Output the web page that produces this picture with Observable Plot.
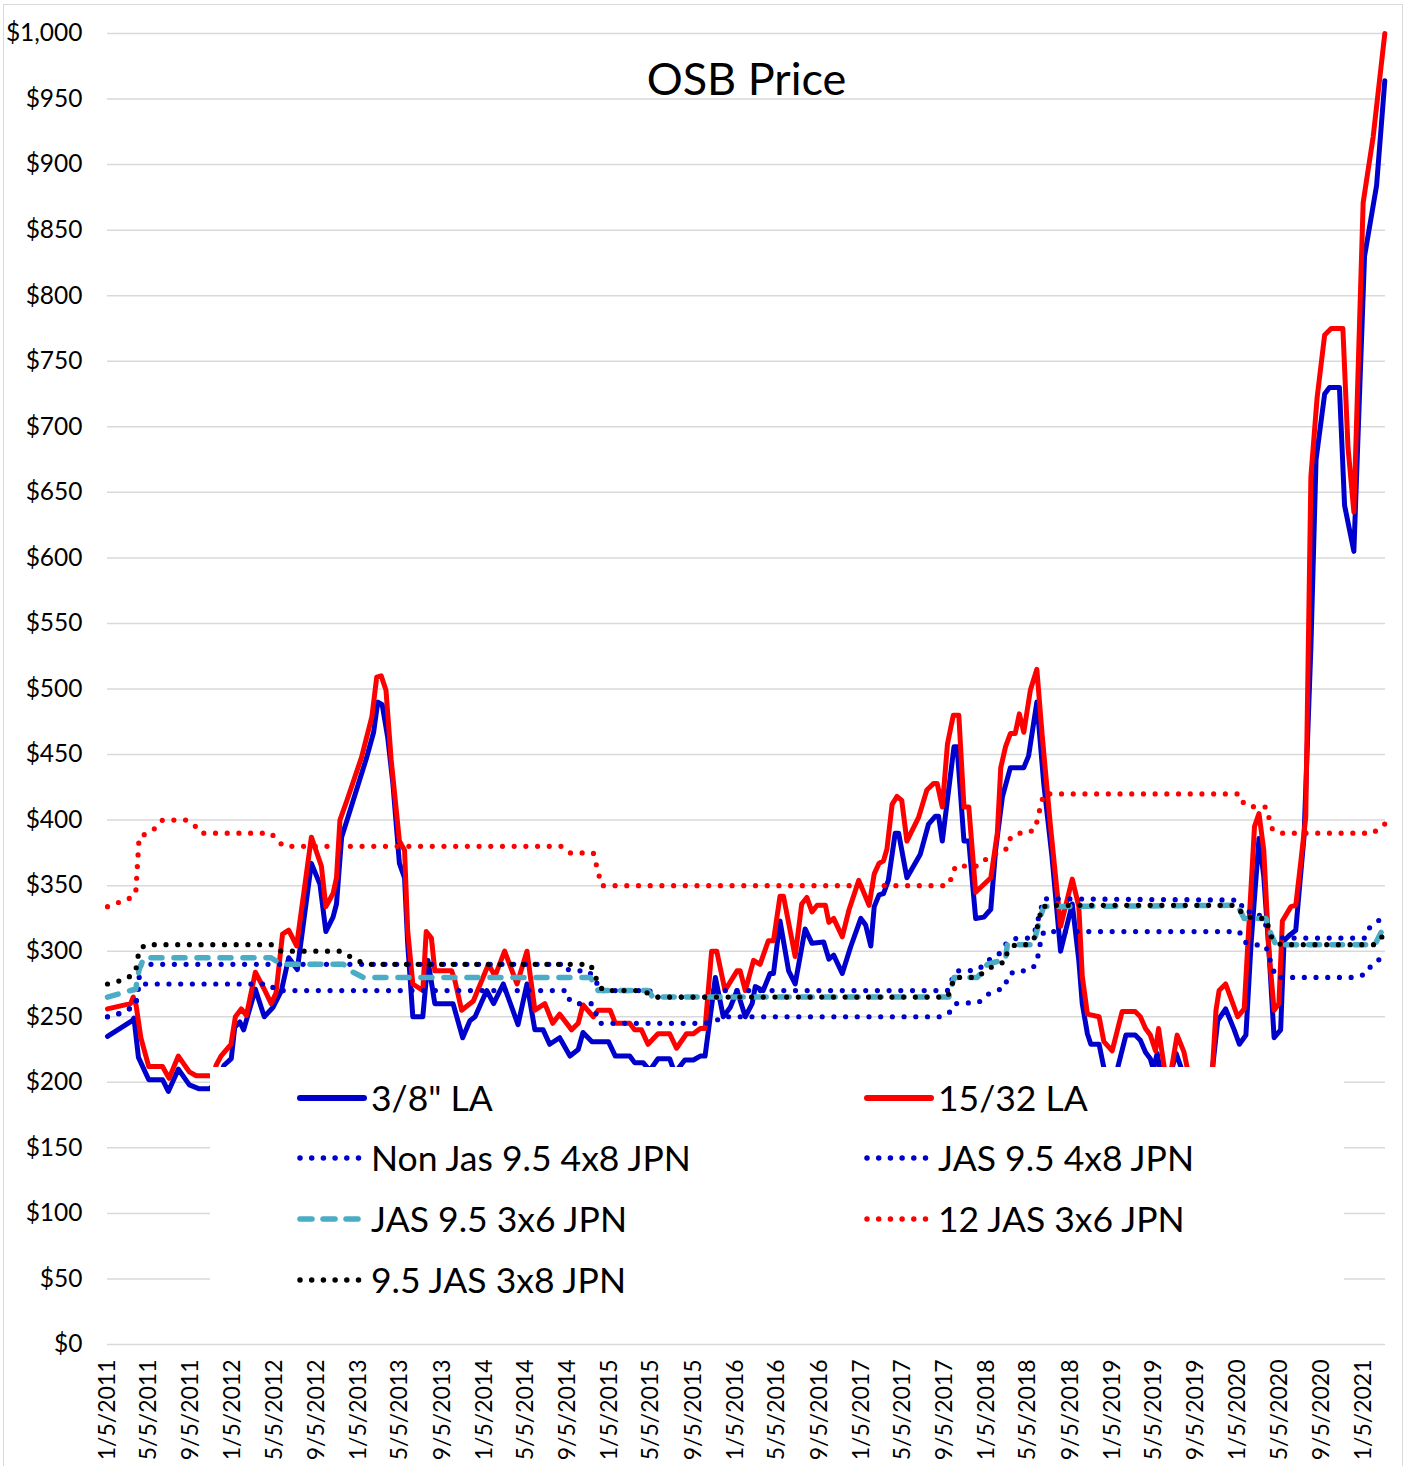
<!DOCTYPE html>
<html>
<head>
<meta charset="utf-8">
<script src="https://cdn.jsdelivr.net/npm/d3@7"></script>
<script src="https://cdn.jsdelivr.net/npm/@observablehq/plot@0.6"></script>
<style>
  html, body { margin: 0; padding: 0; background: #fff; }
  #wrap { position: relative; width: 1410px; height: 1466px; overflow: hidden; font-family: Lato, "Open Sans", sans-serif; }
  #border { position: absolute; left: 3px; top: 4px; width: 1398px; height: 1480px; border: 1.5px solid #d9d9d9; pointer-events: none; }
  #legend { position: absolute; left: 210px; top: 1067px; width: 1134px; height: 245px; background: #fff; }
  .item { position: absolute; height: 50px; display: flex; align-items: center; white-space: nowrap; }
  .item span { font-size: 35.5px; color: #000; margin-left: 4px; line-height: 1; }
</style>
</head>
<body>
<div id="wrap"><div id="chart"></div><div id="legend"></div><div id="border"></div></div>
<script>
// ---------- data ----------
const title = "OSB Price";
const yTicks = [0,50,100,150,200,250,300,350,400,450,500,550,600,650,700,750,800,850,900,950,1000];
const xTickDates = ["2011-01-05","2011-05-05","2011-09-05","2012-01-05","2012-05-05","2012-09-05","2013-01-05","2013-05-05","2013-09-05","2014-01-05","2014-05-05","2014-09-05","2015-01-05","2015-05-05","2015-09-05","2016-01-05","2016-05-05","2016-09-05","2017-01-05","2017-05-05","2017-09-05","2018-01-05","2018-05-05","2018-09-05","2019-01-05","2019-05-05","2019-09-05","2020-01-05","2020-05-05","2020-09-05","2021-01-05"];
const seriesNames = ["3/8\" LA","15/32 LA","Non Jas 9.5 4x8 JPN","JAS 9.5 4x8 JPN","JAS 9.5 3x6 JPN","12 JAS 3x6 JPN","9.5 JAS 3x8 JPN"];

const la38 = [["2011-01-05",235],["2011-03-18",247],["2011-03-23",249],["2011-04-05",219],["2011-05-05",202],["2011-06-14",202],["2011-07-01",193],["2011-07-30",210],["2011-08-31",198],["2011-09-29",195],["2011-10-28",195],["2011-11-20",200],["2011-12-10",213],["2011-12-31",218],["2012-01-10",242],["2012-01-25",246],["2012-02-05",240],["2012-03-10",271],["2012-04-05",250],["2012-04-30",257],["2012-05-25",270],["2012-06-15",295],["2012-07-10",286],["2012-08-20",367],["2012-09-14",351],["2012-10-01",315],["2012-10-22",326],["2012-11-01",336],["2012-11-16",387],["2012-12-10",407],["2013-01-28",448],["2013-02-17",467],["2013-03-01",490],["2013-03-14",488],["2013-03-30",463],["2013-04-14",428],["2013-05-03",367],["2013-05-18",356],["2013-05-27",306],["2013-06-11",250],["2013-07-10",250],["2013-07-25",293],["2013-08-14",260],["2013-10-06",260],["2013-11-03",234],["2013-11-24",247],["2013-12-09",250],["2014-01-12",270],["2014-02-01",260],["2014-03-01",275],["2014-04-13",244],["2014-05-09",275],["2014-06-01",240],["2014-06-25",240],["2014-07-14",229],["2014-08-12",234],["2014-09-11",220],["2014-10-05",225],["2014-10-19",238],["2014-11-14",231],["2015-01-01",231],["2015-01-21",220],["2015-03-04",220],["2015-03-18",215],["2015-04-12",215],["2015-05-01",209],["2015-05-25",218],["2015-06-28",218],["2015-07-13",207],["2015-08-11",217],["2015-09-05",217],["2015-09-25",220],["2015-10-09",220],["2015-11-08",280],["2015-12-01",250],["2015-12-21",257],["2016-01-10",270],["2016-02-03",250],["2016-02-23",260],["2016-03-03",273],["2016-03-26",270],["2016-04-15",283],["2016-04-25",283],["2016-05-14",323],["2016-06-08",285],["2016-06-27",275],["2016-07-26",317],["2016-08-15",306],["2016-09-18",307],["2016-10-03",294],["2016-10-17",297],["2016-11-11",283],["2016-12-05",303],["2017-01-04",325],["2017-01-18",320],["2017-02-02",304],["2017-02-12",334],["2017-02-26",343],["2017-03-11",344],["2017-03-25",354],["2017-04-14",390],["2017-04-24",390],["2017-05-18",356],["2017-06-26",374],["2017-07-20",397],["2017-08-09",403],["2017-08-18",403],["2017-08-29",384],["2017-10-02",456],["2017-10-11",456],["2017-10-31",384],["2017-11-14",384],["2017-12-04",325],["2017-12-28",326],["2018-01-17",332],["2018-01-31",377],["2018-02-20",418],["2018-03-15",440],["2018-04-23",440],["2018-05-07",449],["2018-05-31",490],["2018-06-20",428],["2018-07-14",372],["2018-08-08",300],["2018-09-11",336],["2018-09-30",293],["2018-10-10",260],["2018-10-25",237],["2018-11-04",229],["2018-11-28",229],["2018-12-12",211],["2018-12-28",200],["2019-01-10",202],["2019-01-21",211],["2019-02-14",236],["2019-03-13",236],["2019-03-28",232],["2019-04-12",223],["2019-04-26",218],["2019-05-05",210],["2019-05-16",222],["2019-05-28",205],["2019-06-15",198],["2019-07-10",222],["2019-08-02",205],["2019-08-25",190],["2019-09-25",188],["2019-10-15",195],["2019-10-24",211],["2019-11-08",247],["2019-12-01",256],["2019-12-26",240],["2020-01-10",229],["2020-01-29",236],["2020-02-13",306],["2020-03-07",386],["2020-03-21",357],["2020-04-05",300],["2020-04-20",234],["2020-05-09",240],["2020-05-19",308],["2020-06-03",312],["2020-06-22",316],["2020-07-02",346],["2020-07-16",387],["2020-08-05",532],["2020-08-20",675],["2020-09-14",725],["2020-09-28",730],["2020-10-27",730],["2020-11-11",640],["2020-12-08",605],["2021-01-08",830],["2021-02-12",884],["2021-03-08",964]];

const la1532 = [["2011-01-05",256],["2011-03-13",260],["2011-03-21",265],["2011-03-29",259],["2011-04-12",234],["2011-05-05",212],["2011-06-14",212],["2011-07-03",203],["2011-07-30",220],["2011-08-31",208],["2011-09-20",205],["2011-10-28",205],["2011-11-08",204],["2011-11-17",213],["2011-12-01",220],["2011-12-30",229],["2012-01-12",250],["2012-01-29",256],["2012-02-13",251],["2012-03-10",284],["2012-04-05",271],["2012-04-25",260],["2012-05-09",268],["2012-05-28",313],["2012-06-15",316],["2012-07-08",304],["2012-08-20",387],["2012-09-18",365],["2012-10-01",334],["2012-10-22",344],["2012-11-01",356],["2012-11-11",400],["2012-11-30",414],["2013-01-13",448],["2013-02-12",479],["2013-02-26",509],["2013-03-11",510],["2013-03-25",499],["2013-04-09",446],["2013-05-03",384],["2013-05-18",377],["2013-05-27",316],["2013-06-11",275],["2013-07-10",270],["2013-07-20",315],["2013-08-04",310],["2013-08-14",285],["2013-10-02",285],["2013-10-11",278],["2013-10-31",255],["2013-12-04",262],["2014-01-17",290],["2014-02-05",281],["2014-03-05",300],["2014-04-10",275],["2014-05-09",300],["2014-06-01",255],["2014-06-30",260],["2014-07-23",245],["2014-08-12",252],["2014-09-16",240],["2014-10-05",245],["2014-10-19",259],["2014-11-18",250],["2014-12-02",255],["2015-01-06",255],["2015-01-21",245],["2015-03-04",245],["2015-03-18",240],["2015-04-07",240],["2015-04-26",229],["2015-05-25",237],["2015-06-28",237],["2015-07-18",226],["2015-08-16",237],["2015-09-05",237],["2015-09-25",241],["2015-10-09",241],["2015-10-28",300],["2015-11-12",300],["2015-12-06",270],["2016-01-10",285],["2016-01-19",285],["2016-02-03",270],["2016-02-27",293],["2016-03-17",290],["2016-04-10",308],["2016-04-25",308],["2016-05-14",342],["2016-05-24",342],["2016-06-27",296],["2016-07-16",336],["2016-07-31",341],["2016-08-15",330],["2016-08-30",335],["2016-09-23",335],["2016-10-03",322],["2016-10-17",325],["2016-11-11",311],["2016-11-30",331],["2016-12-29",354],["2017-01-28",335],["2017-02-12",359],["2017-02-26",367],["2017-03-11",369],["2017-03-21",378],["2017-04-05",412],["2017-04-19",418],["2017-05-03",415],["2017-05-18",384],["2017-06-21",402],["2017-07-15",423],["2017-08-04",428],["2017-08-14",428],["2017-08-29",410],["2017-09-13",458],["2017-09-30",480],["2017-10-16",480],["2017-10-31",410],["2017-11-14",410],["2017-12-04",345],["2018-01-17",356],["2018-02-05",390],["2018-02-15",440],["2018-03-01",456],["2018-03-15",466],["2018-03-29",466],["2018-04-10",481],["2018-04-23",467],["2018-05-12",499],["2018-05-31",515],["2018-06-15",466],["2018-07-09",397],["2018-08-08",319],["2018-09-11",355],["2018-09-30",334],["2018-10-10",281],["2018-10-25",252],["2018-11-28",250],["2018-12-12",231],["2019-01-05",224],["2019-02-03",254],["2019-03-13",254],["2019-03-28",250],["2019-04-12",241],["2019-04-26",236],["2019-05-11",224],["2019-05-20",241],["2019-06-09",205],["2019-06-25",208],["2019-07-13",236],["2019-08-02",223],["2019-08-16",205],["2019-09-15",198],["2019-10-15",203],["2019-10-24",211],["2019-11-03",255],["2019-11-12",270],["2019-12-01",275],["2020-01-05",250],["2020-01-24",256],["2020-02-08",326],["2020-02-23",395],["2020-03-07",405],["2020-03-21",377],["2020-04-05",300],["2020-04-20",255],["2020-05-04",260],["2020-05-14",323],["2020-06-08",334],["2020-06-22",335],["2020-07-07",369],["2020-07-21",402],["2020-08-05",662],["2020-08-23",722],["2020-09-14",770],["2020-10-03",775],["2020-11-06",775],["2020-11-21",684],["2020-12-08",635],["2021-01-04",871],["2021-02-02",921],["2021-03-08",1000]];

const nonJas4x8 = [["2011-01-05",250],["2011-02-04",252],["2011-03-03",255],["2011-03-28",259],["2011-04-07",275],["2012-04-20",275],["2012-05-09",270],["2014-09-01",270],["2014-09-11",262],["2014-10-05",260],["2014-11-14",260],["2014-11-23",254],["2014-12-07",245],["2015-10-04",245],["2015-11-02",246],["2015-12-01",250],["2017-08-29",250],["2017-09-22",254],["2017-10-06",260],["2017-12-13",261],["2018-01-07",267],["2018-02-05",270],["2018-03-01",273],["2018-03-06",281],["2018-03-29",285],["2018-05-02",285],["2018-05-26",289],["2018-06-05",298],["2018-06-10",306],["2018-06-20",315],["2020-01-10",315],["2020-01-24",307],["2020-02-23",305],["2020-03-27",304],["2020-04-05",296],["2020-04-15",288],["2020-04-25",280],["2020-12-15",280],["2021-01-14",283],["2021-01-29",290],["2021-02-28",295],["2021-03-08",296]];

const jas4x8 = [["2011-01-05",250],["2011-02-04",252],["2011-03-03",255],["2011-03-28",259],["2011-04-12",290],["2014-09-01",290],["2014-09-06",286],["2014-09-30",285],["2014-11-03",285],["2014-11-23",279],["2014-12-07",270],["2015-05-01",270],["2015-05-10",265],["2015-10-15",265],["2015-11-02",270],["2017-09-13",270],["2017-09-27",279],["2017-10-11",285],["2017-11-10",285],["2017-12-13",286],["2018-01-07",293],["2018-02-05",296],["2018-03-06",307],["2018-04-03",310],["2018-05-07",310],["2018-05-26",316],["2018-06-20",340],["2020-01-10",339],["2020-01-24",330],["2020-02-28",330],["2020-03-17",325],["2020-04-11",312],["2020-05-19",310],["2021-01-08",310],["2021-01-23",318],["2021-02-17",323],["2021-03-08",329]];

const jas3x6 = [["2011-01-05",265],["2011-03-13",270],["2011-03-28",271],["2011-04-07",286],["2011-04-21",295],["2012-04-25",295],["2012-05-24",290],["2012-11-21",290],["2012-12-19",284],["2013-01-18",280],["2014-11-09",280],["2014-11-23",275],["2014-12-02",270],["2015-04-26",270],["2015-05-10",265],["2017-09-17",265],["2017-10-02",280],["2017-12-09",280],["2018-01-07",290],["2018-03-01",294],["2018-03-06",305],["2018-05-21",305],["2018-06-10",326],["2018-06-20",334],["2020-01-05",335],["2020-01-24",325],["2020-03-27",325],["2020-04-11",313],["2020-04-25",305],["2021-02-07",305],["2021-03-08",320]];

const jas12x36 = [["2011-01-05",334],["2011-02-04",337],["2011-03-03",339],["2011-03-28",344],["2011-04-07",387],["2011-05-01",390],["2011-05-25",394],["2011-06-14",400],["2011-08-21",400],["2011-09-15",396],["2011-10-04",390],["2012-04-25",390],["2012-05-14",384],["2012-06-02",380],["2014-08-17",380],["2014-09-11",375],["2014-11-18",375],["2014-12-12",350],["2017-09-13",350],["2017-09-27",357],["2017-10-06",365],["2017-12-09",365],["2018-01-07",371],["2018-02-05",375],["2018-03-01",377],["2018-03-10",385],["2018-04-03",390],["2018-05-02",390],["2018-05-26",393],["2018-06-10",410],["2018-06-20",420],["2020-01-10",420],["2020-01-24",412],["2020-02-23",410],["2020-03-27",410],["2020-04-15",393],["2020-05-10",390],["2021-02-02",390],["2021-02-28",396],["2021-03-08",397]];

const jas3x8 = [["2011-01-05",275],["2011-02-04",277],["2011-03-03",279],["2011-03-28",285],["2011-04-07",301],["2011-04-26",305],["2012-04-30",305],["2012-05-24",300],["2012-11-11",300],["2012-12-10",296],["2013-01-08",292],["2013-02-07",290],["2014-11-09",290],["2014-11-20",284],["2014-12-02",275],["2014-12-17",270],["2015-04-01",270],["2015-04-26",268],["2015-05-25",265],["2017-09-13",265],["2017-09-24",272],["2017-10-02",280],["2017-12-09",280],["2018-01-05",286],["2018-02-05",290],["2018-03-01",292],["2018-03-06",300],["2018-03-29",305],["2018-05-01",305],["2018-05-21",308],["2018-05-31",317],["2018-06-15",334],["2018-07-19",335],["2019-12-31",335],["2020-01-24",327],["2020-02-23",325],["2020-03-27",325],["2020-04-05",317],["2020-04-15",309],["2020-05-10",305],["2021-02-07",305],["2021-02-28",311],["2021-03-08",311]];

// ---------- styles ----------
const BLUE = "#0000cc", RED = "#ff0000", TEAL = "#4bacc6", BLACK = "#000000";
const styles = [
  {data: la38, stroke: BLUE, strokeWidth: 5, dash: null},
  {data: la1532, stroke: RED, strokeWidth: 5, dash: null},
  {data: nonJas4x8, stroke: BLUE, strokeWidth: 5.2, dash: "0 11.7"},
  {data: jas4x8, stroke: BLUE, strokeWidth: 5.2, dash: "0 11.7"},
  {data: jas3x6, stroke: TEAL, strokeWidth: 5.5, dash: "11 12"},
  {data: jas12x36, stroke: RED, strokeWidth: 5.2, dash: "0 11.7"},
  {data: jas3x8, stroke: BLACK, strokeWidth: 5.2, dash: "0 11.7"}
];

const rows = (arr) => arr.map(([d, v]) => ({date: new Date(d), value: v}));
const fmtX = d => `${d.getUTCMonth() + 1}/${d.getUTCDate()}/${d.getUTCFullYear()}`;
const fmtY = d => "$" + d3.format(",")(d);

const lineMarks = styles.map(s => Plot.line(rows(s.data), {
  x: "date", y: "value", stroke: s.stroke, strokeWidth: s.strokeWidth,
  strokeLinecap: "round", strokeLinejoin: "round",
  ...(s.dash ? {strokeDasharray: s.dash} : {})
}));

const chart = Plot.plot({
  width: 1410, height: 1466,
  marginTop: 33, marginBottom: 122, marginLeft: 107, marginRight: 25,
  style: {fontFamily: "Lato, 'Open Sans', sans-serif", color: "#000", background: "transparent"},
  x: {type: "utc", domain: [new Date("2011-01-05"), new Date("2021-03-10")]},
  y: {domain: [0, 1000]},
  marks: [
    Plot.gridY(yTicks, {stroke: "#d9d9d9", strokeOpacity: 1, strokeWidth: 1.5}),
    Plot.axisY(yTicks, {tickSize: 0, tickPadding: 25, tickFormat: fmtY, fontSize: 24.5, fill: "#000", label: null}),
    Plot.axisX(xTickDates.map(d => new Date(d)), {tickSize: 0, tickPadding: 15, tickRotate: -90, tickFormat: fmtX, fontSize: 23, fill: "#000", label: null}),
    ...lineMarks,
    Plot.text([title], {frameAnchor: "top", dy: 47, lineAnchor: "middle", fontSize: 45, fill: "#000"})
  ]
});
document.getElementById("chart").appendChild(chart);

// ---------- legend ----------
const legend = document.getElementById("legend");
const colX = [87, 654];
const rowY = [31, 91, 152, 213];
styles.forEach((s, i) => {
  const item = document.createElement("div");
  item.className = "item";
  item.style.left = colX[i % 2] + "px";
  item.style.top = (rowY[Math.floor(i / 2)] - 25) + "px";
  const ns = "http://www.w3.org/2000/svg";
  const svg = document.createElementNS(ns, "svg");
  svg.setAttribute("width", 70); svg.setAttribute("height", 12);
  const ln = document.createElementNS(ns, "line");
  ln.setAttribute("x1", 3); ln.setAttribute("x2", s.dash ? 64 : 67);
  ln.setAttribute("y1", 6); ln.setAttribute("y2", 6);
  ln.setAttribute("stroke", s.stroke);
  ln.setAttribute("stroke-width", s.dash ? 5.5 : 6);
  ln.setAttribute("stroke-linecap", "round");
  if (s.dash) ln.setAttribute("stroke-dasharray", s.dash === "11 12" ? "12 11" : "0 11.7");
  svg.appendChild(ln);
  item.appendChild(svg);
  const sp = document.createElement("span");
  sp.textContent = seriesNames[i];
  item.appendChild(sp);
  legend.appendChild(item);
});
</script>
</body>
</html>
